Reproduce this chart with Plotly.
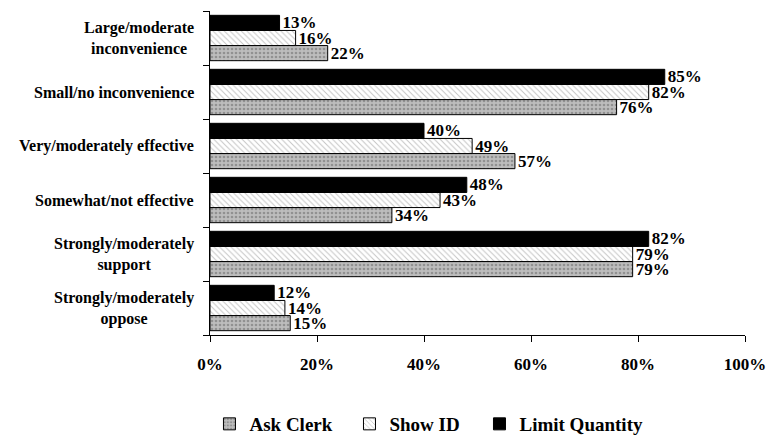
import plotly.graph_objects as go

categories = ["Large/moderate<br>inconvenience", "Small/no inconvenience",
              "Very/moderately effective", "Somewhat/not effective",
              "Strongly/moderately<br>support", "Strongly/moderately<br>oppose"]
ask_clerk = [22, 76, 57, 34, 79, 15]
show_id = [16, 82, 49, 43, 79, 14]
limit_qty = [13, 85, 40, 48, 82, 12]
x_ticks = [0, 20, 40, 60, 80, 100]
x_tick_labels = ["0%", "20%", "40%", "60%", "80%", "100%"]
series_names = ["Ask Clerk", "Show ID", "Limit Quantity"]

FONT = "'Liberation Serif', 'Times New Roman', serif"

markers = [
    dict(color="#bdbdbd", line=dict(color="black", width=1),
         pattern=dict(shape=".", fgcolor="#666666", size=4, solidity=0.35)),
    dict(color="white", line=dict(color="black", width=1),
         pattern=dict(shape="\\", fgcolor="#8a8a8a", size=4, solidity=0.25)),
    dict(color="black", line=dict(color="black", width=1)),
]
legend_ids = ["legend", "legend2", "legend3"]
legend_x = [-0.001, 0.2607, 0.5037]

fig = go.Figure()
for name, vals, marker, lid in zip(series_names, [ask_clerk, show_id, limit_qty], markers, legend_ids):
    fig.add_trace(go.Bar(
        y=categories, x=vals, name=f"<b>{name}</b>", orientation="h", marker=marker,
        text=[f"<b>{v}%</b>" for v in vals], texttemplate="%{text}",
        textposition="outside", cliponaxis=False, constraintext="none",
        textfont=dict(family=FONT, size=17, color="black"), legend=lid, showlegend=True,
    ))

# centred multi-line category labels
for c in categories:
    fig.add_annotation(x=-0.027, xref="paper", y=c, yref="y", text=f"<b>{c}</b>",
                       showarrow=False, xanchor="right", yanchor="middle", align="center",
                       font=dict(family=FONT, size=16, color="black"))

legend_style = dict(orientation="h", xanchor="left", yref="container", y=1 - 424 / 439,
                    yanchor="middle", font=dict(family=FONT, size=19, color="black"))

fig.update_layout(
    width=777, height=439, showlegend=True,
    margin=dict(l=210, r=32, t=11, b=104),
    paper_bgcolor="white", plot_bgcolor="white",
    barmode="group", bargap=0.16, bargroupgap=0,
    font=dict(family=FONT, color="black"),
    **{lid: dict(x=lx, **legend_style) for lid, lx in zip(legend_ids, legend_x)},
    xaxis=dict(range=[0, 100], tickvals=x_ticks,
               ticktext=[f"<b>{t}</b>" for t in x_tick_labels],
               showgrid=False, zeroline=False, showline=True, linecolor="black", linewidth=1,
               ticks="outside", ticklen=6, tickcolor="black", ticklabelstandoff=8,
               tickfont=dict(family=FONT, size=17, color="black")),
    yaxis=dict(categoryorder="array", categoryarray=categories[::-1], range=[-0.5, 5.5],
               showgrid=False, zeroline=False, showline=True, linecolor="black", linewidth=1,
               ticks="outside", ticklen=6, tickwidth=1, tickcolor="black", tickson="boundaries",
               showticklabels=False),
)

fig.write_html("out.html", config={"displayModeBar": False},
               post_script="document.body.style.margin='0';")
